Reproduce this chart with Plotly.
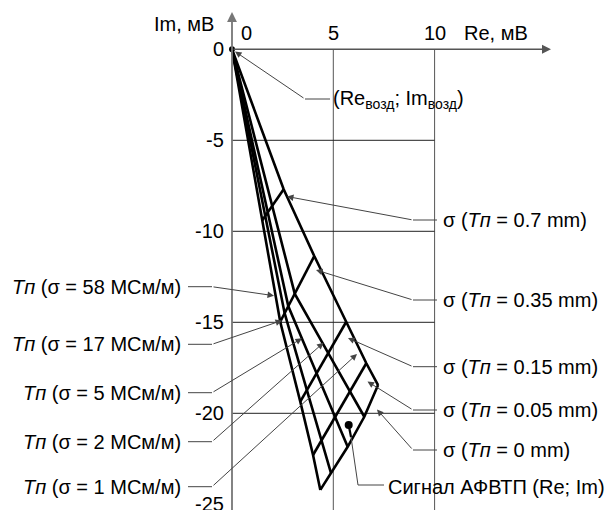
import plotly.graph_objects as go

# ---------------- data (Re, Im in mV) ----------------
sigma_labels = ["58", "17", "5", "2", "1"]          # MS/m
tp_labels = ["0.7", "0.35", "0.15", "0.05", "0"]     # mm

# nodes along each sigma-line, ordered by Tp = 0.7, 0.35, 0.15, 0.05, 0
re_s58 = [1.48, 2.38, 3.37, 4.00, 4.36]
im_s58 = [-9.42, -14.97, -19.36, -22.29, -24.21]
re_s17 = [1.64, 2.60, 3.70, 4.41, 4.89]
im_s17 = [-9.16, -14.51, -18.74, -21.50, -23.30]
re_s5 = [1.76, 2.78, 4.18, 5.09, 5.71]
im_s5 = [-8.96, -14.12, -17.81, -20.21, -21.84]
re_s2 = [1.98, 3.10, 4.75, 5.82, 6.53]
im_s2 = [-8.60, -13.44, -16.69, -18.79, -20.19]
re_s1 = [2.55, 4.06, 5.64, 6.63, 7.21]
im_s1 = [-7.69, -11.36, -14.97, -17.25, -18.45]

re_air, im_air = 0.0, 0.0
re_signal, im_signal = 5.76, -20.64

x_tick_vals = [0, 5, 10]
x_tick_text = ["0", "5", "10"]
y_tick_vals = [0, -5, -10, -15, -20, -25]
y_tick_text = ["0", "-5", "-10", "-15", "-20", "-25"]

# ---------------- layout helpers ----------------
WIN_W, WIN_H = 613, 510
BODY = 8                      # default page margin of the html body
W, H = WIN_W - BODY, WIN_H - BODY
PX_X0, PX_PER_X = 232.0, 20.26   # window pixel of Re = 0, pixels per mV
PX_Y0, PX_PER_Y = 49.3, 18.2     # window pixel of Im = 0, pixels per mV


def X(px):
    return (px - PX_X0) / PX_PER_X


def Y(py):
    return -(py - PX_Y0) / PX_PER_Y


FONT = "Liberation Sans, Arial, sans-serif"
FS = 20
MESH_W = 2.6
GRID_C = "#555555"
LEAD_C = "#444444"

re_lines = [re_s58, re_s17, re_s5, re_s2, re_s1]
im_lines = [im_s58, im_s17, im_s5, im_s2, im_s1]

fig = go.Figure()

# sigma lines (from the air point)
for rx, iy in zip(re_lines, im_lines):
    fig.add_trace(go.Scatter(x=[re_air] + rx, y=[im_air] + iy, mode="lines",
                             line=dict(color="black", width=MESH_W),
                             hoverinfo="skip", showlegend=False))
# Tp curves
for j in range(len(tp_labels)):
    fig.add_trace(go.Scatter(x=[r[j] for r in re_lines[::-1]],
                             y=[m[j] for m in im_lines[::-1]], mode="lines",
                             line=dict(color="black", width=MESH_W),
                             hoverinfo="skip", showlegend=False))

# air point and signal point
fig.add_trace(go.Scatter(x=[re_air], y=[im_air], mode="markers",
                         marker=dict(color="black", size=6),
                         hoverinfo="skip", showlegend=False))
fig.add_trace(go.Scatter(x=[re_signal], y=[im_signal], mode="markers",
                         marker=dict(color="black", size=8),
                         hoverinfo="skip", showlegend=False))
# signal stem
fig.add_trace(go.Scatter(x=[re_signal, re_signal + 2.3 / PX_PER_X],
                         y=[im_signal, im_signal - 12.0 / PX_PER_Y],
                         mode="lines", line=dict(color="black", width=2.2),
                         hoverinfo="skip", showlegend=False))

shapes = []
# grid
for xv in [5, 10]:
    shapes.append(dict(type="line", x0=xv, x1=xv, y0=0, y1=Y(512), xref="x", yref="y",
                       line=dict(color=GRID_C, width=1), layer="below"))
for yv in [-5, -10, -15, -20]:
    shapes.append(dict(type="line", x0=0, x1=10, y0=yv, y1=yv, xref="x", yref="y",
                       line=dict(color="#222222", width=1), layer="below"))


def seg(x0, y0, x1, y1, w=1.0, c=LEAD_C):
    shapes.append(dict(type="line", x0=X(x0), y0=Y(y0), x1=X(x1), y1=Y(y1),
                       xref="x", yref="y", line=dict(color=c, width=w)))


annotations = []


def arrow(tailx, taily, tipx, tipy, w=1.0, c=LEAD_C, size=1.3):
    annotations.append(dict(x=X(tipx), y=Y(tipy), ax=X(tailx), ay=Y(taily),
                            xref="x", yref="y", axref="x", ayref="y", text="",
                            showarrow=True, arrowhead=2, arrowsize=size,
                            arrowwidth=w, arrowcolor=c, standoff=0, startstandoff=0))


def label(px, py, text, anchor):
    annotations.append(dict(x=X(px), y=Y(py), xref="x", yref="y", text=text,
                            showarrow=False, xanchor=anchor, yanchor="middle",
                            font=dict(family=FONT, size=FS, color="black")))


# axes with arrows
arrow(232, 49.3, 551, 49.3, w=1.5, c="#555555", size=1.2)
arrow(232, 512, 232, 12, w=1.8, c="#777777", size=1.1)

# tick labels
for v, t in zip(y_tick_vals, y_tick_text):
    annotations.append(dict(x=0, y=v, xref="x", yref="y", text=t, showarrow=False,
                            xanchor="right", yanchor="middle", xshift=-6,
                            font=dict(family=FONT, size=FS, color="black")))
for v, t in zip(x_tick_vals, x_tick_text):
    annotations.append(dict(x=v, y=0, xref="x", yref="y", text=t, showarrow=False,
                            xanchor="center", yanchor="middle", yshift=16,
                            xshift=(14 if v == 0 else 0),
                            font=dict(family=FONT, size=FS, color="black")))
label(462, 33, "Re, мВ", "left")
label(216, 24, "Im, мВ", "right")

# air point label
label(331, 99, "(Re<sub>возд</sub>; Im<sub>возд</sub>)", "left")
seg(305, 99, 330, 99)
arrow(305, 99, 235, 51.5)

# left labels: Tp (sigma = ...)
left_y = [286.7, 344.3, 392.7, 441.7, 486.7]
left_tip = [(274, 295.7), (282, 320.5), (302, 338.3), (323.5, 342.7), (357, 354)]
for s, ly, (tx, ty) in zip(sigma_labels, left_y, left_tip):
    label(183, ly, "<i>Tп</i> (σ = %s МСм/м)" % s, "right")
    seg(188, ly, 212, ly)
    arrow(212, ly, tx, ty)

# right labels: sigma (Tp = ...)
right_y = [220, 300, 366.7, 410, 450]
right_tip = [(287, 196.5), (316, 270), (348, 338), (367.5, 381.5), (377, 409.5)]
for t, ly, (tx, ty) in zip(tp_labels, right_y, right_tip):
    label(441, ly, "σ (<i>Tп</i> = %s mm)" % t, "left")
    seg(413, ly, 437, ly)
    arrow(413, ly, tx, ty)

# signal label
label(386, 487, "Сигнал АФВТП (Re; Im)", "left")
seg(351, 437, 358, 485)
seg(358, 485, 384, 485)

fig.update_layout(
    width=W, height=H,
    margin=dict(l=0, r=0, t=0, b=0),
    paper_bgcolor="white", plot_bgcolor="white",
    xaxis=dict(range=[X(BODY), X(WIN_W)], visible=False, fixedrange=True),
    yaxis=dict(range=[Y(WIN_H), Y(BODY)], visible=False, fixedrange=True),
    shapes=shapes, annotations=annotations, showlegend=False,
    font=dict(family=FONT, size=FS, color="black"),
)

fig.write_html("out.html")
